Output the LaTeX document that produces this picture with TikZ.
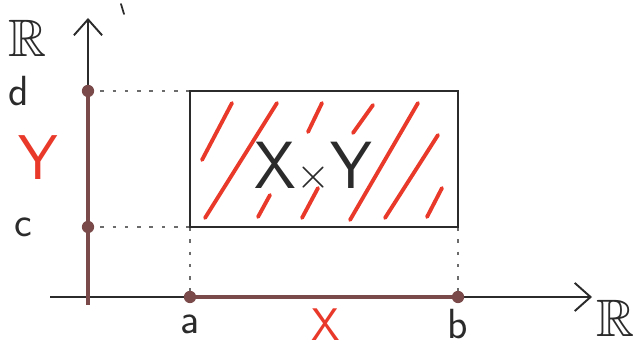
\documentclass[tikz,border=0pt]{standalone}
\usepackage{amssymb}
\usepackage{xcolor}
\usetikzlibrary{arrows.meta, positioning}

\definecolor{pen}{HTML}{2B2B2B}
\definecolor{redpen}{HTML}{E8392A}
\definecolor{brownpen}{HTML}{7A4A4A}

\begin{document}
\begin{tikzpicture}[
    x=0.02cm, y=-0.02cm,
    axis/.style={draw=pen, line width=1.1pt, -{Straight Barb[length=9pt, width=16pt, line width=1.1pt]}},
    span/.style={draw=brownpen, line width=2pt},
    guide/.style={draw=pen!70, line width=0.9pt, dash pattern=on 2pt off 5pt},
    hatch/.style={draw=redpen, line width=2.2pt, line cap=round},
    dot/.style={circle, fill=brownpen, inner sep=0pt, minimum size=7pt},
    lbl/.style={font=\sffamily\fontsize{24}{24}\selectfont, text=pen, inner sep=1pt},
    redlbl/.style={font=\sffamily\fontsize{#1}{#1}\selectfont, text=redpen, inner sep=1pt},
    redlbl/.default={26},
]
    \useasboundingbox (0,0) rectangle (639,350);

    % Axes
    \coordinate (ybot) at (88,305);
    \coordinate (ytop) at (88,18);
    \coordinate (xleft) at (50,297);
    \coordinate (xright) at (592,297);
    \draw[axis] (ybot) -- (ytop);
    \draw[axis] (xleft) -- (xright);
    \draw[pen, line width=1pt, line cap=round] (121,4) -- (124,14);

    % Interval ends
    \coordinate (d) at (88,91);
    \coordinate (c) at (88,227);
    \coordinate (a) at (190,297);
    \coordinate (b) at (458,297);
    \draw[span] (d) -- (ybot);
    \draw[span] (a) -- (b);

    % Rectangle and guides
    \coordinate (box sw) at (a |- c);
    \coordinate (box ne) at (b |- d);
    \draw[guide] (d) -- (d -| a);
    \draw[guide] (c) -- (box sw);
    \draw[guide] (box sw) -- (a);
    \draw[guide] (b |- c) -- (b);

    % Red hatching
    \foreach \xa/\ya/\xb/\yb in {
        202/160/232/103, 205/218/277/103, 308/132/322/103,
        258/217/270/195, 302/218/318/188, 353/133/373/105,
        350/220/418/103, 385/218/438/135, 427/217/442/188}
        \draw[hatch] (\xa,\ya) -- (\xb,\yb);
    \draw[pen, line width=1.4pt] (box sw) rectangle (box ne);

    % Points
    \node[dot] (dd) at (d) {};
    \node[dot] (cc) at (c) {};
    \node[dot] (aa) at (a) {};
    \node[dot] (bb) at (b) {};

    % Labels
    \node[font=\fontsize{30}{30}\selectfont, text=pen, inner sep=1pt] (rtop) at (28,38) {$\mathbb{R}$};
    \node[font=\fontsize{30}{30}\selectfont, text=pen, inner sep=1pt] (rright) at (616,318) {$\mathbb{R}$};
    \node[lbl, left=1cm of dd] (dlbl) {d};
    \node[lbl, left=0.95cm of cc] (clbl) {c};
    \node[lbl, below=5pt of aa] (albl) {a};
    \node[lbl, below=2pt of bb] (blbl) {b};
    \node[redlbl=36] (ylbl) at (38,158) {Y};
    \node[redlbl] (xlbl) at (326,325) {X};
    \node[font=\sffamily\fontsize{38}{38}\selectfont, text=pen] (prod) at (313,167) {X$\times$Y};
\end{tikzpicture}
\end{document}
